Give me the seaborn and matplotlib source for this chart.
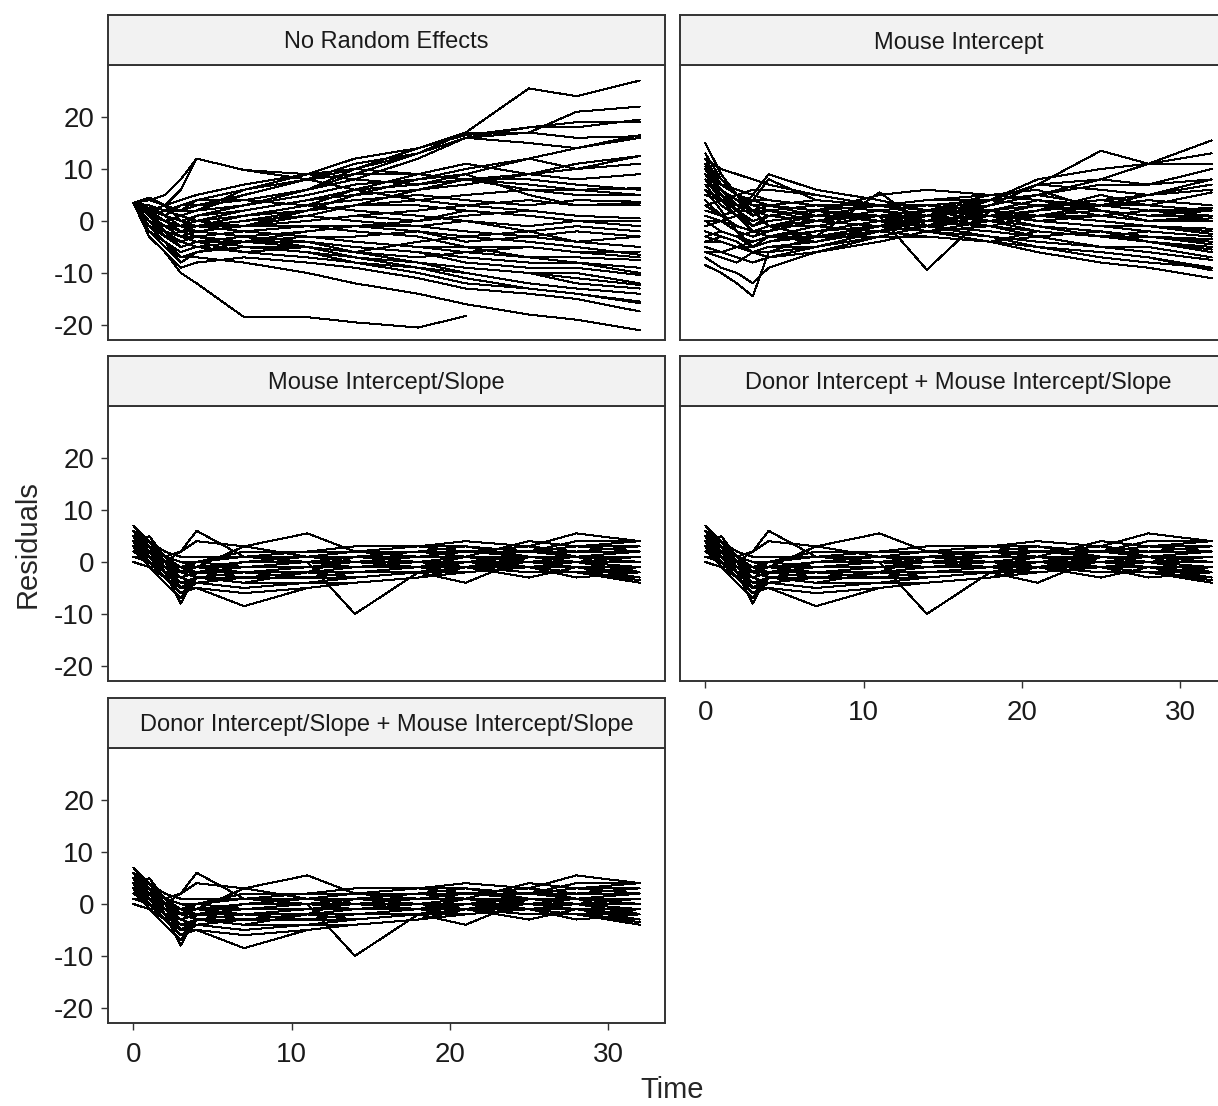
import numpy as np
import pandas as pd
import matplotlib
matplotlib.use("Agg")
import matplotlib.pyplot as plt
import seaborn as sns

# residuals per mouse (rows) at each time point
times = [0, 1, 2, 3, 4, 7, 11, 14, 18, 21, 25, 28, 32]
nan = np.nan

no_random = [
    [3.5, 1.5, 0, -1, 1, 3, 6, 9, 13, 17, 25.5, 24, 27],
    [3.5, 3, 2, 2, 4, 6, 8, 11, 13, 16, 17, 21, 22],
    [3.5, 2, 3, 4, 5, 7, 9, 12, 14, 16.5, 18, 18, 19.5],
    [3.5, 4, 3, 2, 3, 5, 8, 10, 13, 16, 15, 14, 16.5],
    [3.5, 2, 1, 3, 4, 4, 6, 10, 14, 17, 17, 16, 16.3],
    [3.5, 4, 5, 8, 12, 9.8, 9, 8, 7, 9, 12, 10, 12.5],
    [3.5, 1, 0, 1, 2, 5, 8, 9, 9, 8, 8, 7, 6],
    [3.5, 2, 0, -1, 0, 2, 4, 6, 7, 8, 6, 6, 5],
    [3.5, 1, -1, -2, -1, 1, 3, 4, 5, 4, 3, 4, 3.7],
    [3.5, 3, 2, 1, 0, -1, 2, 5, 8, 9, 5, 3, 3.5],
    [3.5, 0, -2, -3, -2, -1, 0, 1, 0, 2, 1, 0, 0],
    [3.5, 1, -1, -1, -2, -3, -2, -1, -1, 0, -2, -1, -2],
    [3.5, -1, -3, -4, -3, -2, -1, -1, -2, -4, -3, -2, -3],
    [3.5, -2, -4, -6, -5, -4, -3, -4, -5, -5, -5, -6, -5.9],
    [3.5, 2, 0, -1, -1, -2, -3, -3, -2, -3, -4, -5, -6.5],
    [3.5, 0, -2, -4, -3, -2, -3, -4, -5, -6, -7, -7, -7.5],
    [3.5, -1, -3, -2, -2, -3, -4, -5, -6, -8, -9, -9, -10.4],
    [3.5, 0, -1, -2, -3, -4, -5, -7, -8, -9, -10, -11, -12.3],
    [3.5, 1, 0, -1, -2, -3, -5, -7, -9, -11, -13, -14, -15.5],
    [3.5, -2, -5, -8, -6, -5, -6, -8, -10, -12, -13, -14, -15.8],
    [3.5, -3, -6, -9, -8, -7, -8, -9, -11, -13, -14, -15, -17.4],
    [3.5, -2, -5, -7, -7, -8, -10, -12, -14, -16, -18, -19, -21],
    [3.5, -3, -6, -10, -12, -18.5, -18.5, -19.5, -20.5, -18.3, nan, nan, nan],
    [3.5, 2, 3, 6, 12, 9.8, 8, 6, 4, 3, 2, 1, 0.5],
    [3.5, 4, 3, 2, 2, 6, 9, 10, 9, 8, 7, 6, 6.3],
    [3.5, 3, 1, 0, 1, 3, 6, 8, 12, 16, 18, 19, 19],
    [3.5, 2, 0, -2, -1, 0, 1, 0, -1, -2, -3, -4, -5],
    [3.5, 1, -1, -2, -3, -5, -6, -7, -8, -9, -10, -10, -12],
    [3.5, 0, -2, -3, -4, -6, -7, -8, -9, -10, nan, nan, nan],
    [3.5, 2, 0, -1, 0, 1, 2, 3, 3, 2, 1, 0, -1],
    [3.5, 3, 2, 1, 2, 3, 5, 7, 8, 10, 12, 14, 16],
    [3.5, 1, -1, -3, -2, -1, -1, -2, -3, -5, -7, -8, -10],
    [3.5, 2, 1, 0, -1, -1, 0, 1, 2, 3, 4, 3, 3],
    [3.5, 0, -2, -5, -4, -4, -5, -6, -7, -6, -5, -6, -7],
    [3.5, 1, 0, -2, -1, 0, 2, 3, 4, 5, 6, 5, 5],
    [3.5, -1, -2, -3, -3, -4, -4, -5, -6, -7, -8, -8, -9],
    [3.5, 2, 1, -1, -2, -1, 1, 3, 6, 8, 9, 10, 11],
    [3.5, -1, -4, -7, -6, -4, -2, -1, 0, 1, 2, 1, 0.5],
    [3.5, 1, -2, -4, -5, -6, -5, -6, -8, -10, -12, -13, -14],
    [3.5, 4.5, 3, 0, -1, 1, 3, 6, 9, 11, 9, 8, 9],
    [3.5, 0, -3, -5, -4, -3, -4, -6, -4, -3, -2, -4, -3],
    [3.5, 2.5, 1, 0, 1, 2, 4, 5, 6, 7, 9, 11, 12.5],
    [3.5, -2, -4, -8, -6, -5, -5, -7, -8, -9, -10, -12, -13],
    [3.5, 1, 2, 3, 3, 4, 3, 2, 1, 0, -1, 0, -1],
]

mouse_int = [
    [-7, -9, -10, -12, -9, -6, -3, -1, 3, 7, 13.5, 11, 15.5],
    [-4, -4, -5, -5, -3, -2, 0, 2, 3, 5, 8, 11, 13],
    [-5, -6, -5, -4, -3, -2, -1, 1, 3, 5, 7, 7, 10],
    [-3, -2, -3, -4, -3, -1, 1, 2, 4, 7, 6, 5, 8],
    [-6, -7, -8, -6, -5, -5, -2, 1, 4, 7, 8, 7, 8],
    [-1, 0, 1, 4, 8, 4, 3, 1, 0, 2, 5, 3, 5.5],
    [0, -2, -3, -2, -1, 1, 3, 4, 4, 3, 3, 2, 1],
    [1, 0, -2, -3, -2, 0, 2, 3, 4, 5, 3, 3, 2],
    [3, 1, -1, -2, -1, 1, 3, 4, 5, 4, 3, 4, 3],
    [0, 0, -1, -2, -3, -4, -1, 2, 5, 6, 2, 0, 0.5],
    [4, 1, -1, -2, -1, 0, 1, 2, 1, 3, 2, 1, 1],
    [6, 4, 2, 2, 1, 0, 1, 2, 2, 3, 1, 2, 1],
    [7, 3, 1, 0, 1, 2, 3, 3, 2, 0, 1, 2, 1],
    [9, 4, 2, 0, 1, 2, 3, 2, 1, 1, 1, 0, 0],
    [7, 6, 4, 3, 3, 2, 1, 1, 2, 1, 0, -1, -2.5],
    [9, 6, 4, 2, 3, 4, 3, 2, 1, 0, -1, -1, -1.5],
    [10, 6, 3, 4, 4, 3, 2, 1, 0, -2, -3, -3, -4.5],
    [10.5, 7, 6, 5, 4, 3, 2, 0, -1, -2, -3, -4, -5.5],
    [12, 10, 9, 8, 7, 5, 3, 1, -1, -3, -5, -6, -7.5],
    [10, 5, 2, -1, 1, 2, 1, -1, -3, -5, -6, -7, -9],
    [-8.5, -10, -12, -14.5, -6, -3, -2, -3, -4, -5, -6, -7, -9.5],
    [13, 8, 5, 3, 3, 2, 0, -2, -4, -6, -8, -9, -11],
    [15, 9, 5, 2, -1, -3, -3, -3, -4, -2, nan, nan, nan],
    [2, 1, 2, 5, 9, 6, 4, 2, 0, -1, -2, -3, -3.5],
    [-1, 0, -1, -2, -2, 2, 5, 6, 5, 4, 3, 2, 2.5],
    [-6, -6, -7, -8, -7, -5, -2, 0, 4, 8, 10, 11, 11],
    [5, 4, 2, 0, 1, 2, 3, 2, 1, 0, -1, -2, -3],
    [9, 6, 4, 3, 2, 0, -1, -2, -3, -4, -5, -5, -7],
    [10, 7, 5, 4, 3, 1, 0, -1, -2, -3, nan, nan, nan],
    [2, 1, -1, -2, -1, 0, 1, -9.4, 2, 1, 0, -1, -2],
    [-5, -6, -7, -8, -7, -6, -4, -2, -1, 1, 3, 5, 7],
    [8, 5, 3, 1, 2, 3, 3, 2, 1, -1, -3, -4, -6],
    [1, 0, -1, -2, -3, -3, 5.5, -1, 0, 1, 2, 1, 1],
    [7, 3, 1, -2, -1, -1, -2, -3, -4, -3, -2, -3, -4],
    [0, -2, -3, -5, -4, -3, -1, 0, 1, 2, 3, 2, 2],
    [8, 4, 3, 2, 2, 1, 1, 0, -1, -2, -3, -3, -4],
    [-2, -3, -4, -6, -6, -5, -3, -1, 1, 3, 4, 5, 6],
    [6, 2, -2, -5, -4, -2, 0, 1, 2, 3, 4, 3, 2],
    [11, 8, 5, 3, 2, 1, 1, -1, -3, -5, -7, -8, -9],
    [-4, -3, -4, -6, -7, -5, -3, -1, 2, 4, 2, 1, 2],
    [8, 4, 1, -1, 0, 1, 0, -2, 0, 1, 2, 0, 1],
    [-3, -4, -5, -6, -5, -4, -2, -1, 0, 1, 3, 5, 6],
    [12, 7, 5, 1, 2, 3, 3, 1, 0, -1, -2, -4, -5],
    [3, 4, 5, 6, 6, 5, 3, 1, -1, -2, -3, -2, -3],
]

mouse_int_slope = [
    [6, 3, -1, -3, -2, -1, 0, 1, 1, 2, 2, 3, 4],
    [5, 4, 1, -2, -1, 0, 1, 2, 2, 3, 2, 4, 4],
    [4, 2, 0, -1, 0, 1, 2, 2, 3, 3, 2, 2, 3],
    [3, 5, 1, -2, 0, 2, 2, 3, 3, 4, 3, 1, 2],
    [7, 3, -2, -8, -2, -1, -1, 0, 1, 2, 1, 1, 1],
    [2, 1, 0, 2, 6, 1, 0, -1, 0, 1, 0, 0, 1],
    [1, 0, -2, -3, -2, 0, 1, 1, 2, 1, 0, 0, 0],
    [2, 0, -1, -2, -1, 0, 1, 0, 1, 2, 1, 1, 0],
    [3, 1, -1, -3, -2, -2, -1, 0, 0, 1, 1, 0, -1],
    [1, 0, -1, -2, -3, -4, -2, 1, 2, 3, 1, 0, -1],
    [4, 1, -2, -4, -3, -2, -1, 0, -1, 1, 0, -1, -1],
    [5, 2, 0, -1, -1, -2, -1, 0, 0, 1, -1, 0, -2],
    [6, 2, -1, -3, -2, -1, 0, 0, -1, -1, 0, 1, -2],
    [3, -1, -3, -6, -4, -3, -2, -1, -1, 0, 0, -1, -3],
    [2, 2, 0, -1, -1, -2, -3, -2, -1, -1, -1, -2, -3],
    [4, 0, -2, -5, -3, -2, -2, -2, -1, -1, -1, -2, -2],
    [5, 1, -2, -2, -2, -3, -3, -2, -2, -2, -1, -1, -3],
    [6, 2, -1, -3, -4, -5, -4, -3, -2, -1, 0, -1, -2],
    [3, 1, -1, -2, -3, -4, -4, -4, -3, -1, 0, 1, 0],
    [4, -1, -4, -7, -3, -3, -3, -3, -2, -1, 1, 0, -1],
    [5, 0, -3, -6, -5, -8.5, -5, -4, -3, -2, -1, 0, 0],
    [6, 1, -2, -5, -5, -6, -5, -4, -3, -2, -1, -1, -2],
    [5, -1, -3, -5, -4, -3, -2, -2, -2, 0, nan, nan, nan],
    [3, 2, 1, 2, 4, 3, 1, 0, -1, 0, 1, 0, 1],
    [2, 1, 0, -1, -1, 3, 5.5, 2, 1, 1, 0, 0, 1],
    [4, 2, 0, -2, -1, -1, 0, 1, 1, 2, 3, 2, 2],
    [3, 2, 0, -1, 0, 1, 1, 1, 0, 0, -1, -1, -2],
    [4, 3, 1, 0, -1, -2, -2, -3, -2, -1, -1, -2, -2],
    [5, 3, 1, 0, 0, -1, -1, -1, -1, 0, nan, nan, nan],
    [2, 1, -1, -2, -1, 0, 0, -10, -2, -4, 1, 0, -1],
    [1, 0, -1, -2, -1, -1, 0, 1, 2, 2, 3, 5.5, 4],
    [4, 2, 0, -2, -1, 0, 1, 1, 0, -1, -3, -1, -1],
    [1, 0, -1, -2, -2, -2, -1, -1, 0, 1, 4, 3, 2],
    [5, 1, -1, -4, -3, -2, -3, -3, -2, -1, -1, -1, -3],
    [0, -1, -1, -3, -2, -1, 0, 1, 2, 3, 2, 1, 0],
    [6, 3, 1, 0, -1, -1, 0, 0, -1, -1, -2, -2, -4],
    [3, 1, 0, -5, -3, -2, -1, -1, 0, 1, 0, 1, 2],
    [6, 3, 0, -2, -3, -2, -1, 0, 1, 2, 3, 2, 3],
    [4, 1, -2, -4, -4, -5, -4, -3, -2, -1, -1, -2, -1],
    [2, 4, 2, 1, 1, 1, 2, 2, 2, 1, 0, 1, 2],
    [5, 2, -1, -3, -2, -3, -3, -2, -1, -2, -1, -2, -3.5],
    [1, 1, 0, -1, -2, -1, 0, -1, 0, 0, 1, 0, 0],
    [7, 4, 0, -3, -2, -1, 0, 1, 2, 1, -1, -3, -2],
    [4, 2, 1, -1, 0, 1, 1, 2, 3, 2, 2, 3, 3],
]

# the two donor models look the same as the mouse intercept/slope model
donor_int_mouse_slope = mouse_int_slope
donor_slope_mouse_slope = mouse_int_slope

panel_titles = [
    "No Random Effects",
    "Mouse Intercept",
    "Mouse Intercept/Slope",
    "Donor Intercept + Mouse Intercept/Slope",
    "Donor Intercept/Slope + Mouse Intercept/Slope",
]
panel_data = [no_random, mouse_int, mouse_int_slope,
              donor_int_mouse_slope, donor_slope_mouse_slope]

rows = []
for title, data in zip(panel_titles, panel_data):
    for m, vals in enumerate(data):
        for t, v in zip(times, vals):
            if not np.isnan(v):
                rows.append({"model": title, "mouse": m, "Time": t, "Residuals": v})
df = pd.DataFrame(rows)

sns.set_style("white")
plt.rcParams['font.family'] = ['Liberation Sans', 'DejaVu Sans']
plt.rcParams['axes.unicode_minus'] = False

W, H = 1218, 1106
fig = plt.figure(figsize=(W / 100, H / 100), dpi=100)

# panel boxes in pixels: (left, top), all the same size
px_left = [108, 680, 108, 680, 108]
px_top = [65, 65, 406, 406, 748]
pw, ph, sh = 557, 275, 50
edge = "#333333"

for i, title in enumerate(panel_titles):
    l, t = px_left[i], px_top[i]
    ax = fig.add_axes([l / W, 1 - (t + ph) / H, pw / W, ph / H])
    sns.lineplot(data=df[df["model"] == title], x="Time", y="Residuals",
                 units="mouse", estimator=None, color="black", lw=0.72,
                 antialiased=False, ax=ax)
    ax.set_xlim(-1.6, 33.6)
    ax.set_ylim(-22.9, 30)
    ax.set_xlabel("")
    ax.set_ylabel("")
    for s in ax.spines.values():
        s.set_color(edge)
        s.set_linewidth(1.4)
    ax.set_xticks([0, 10, 20, 30])
    ax.set_yticks([-20, -10, 0, 10, 20])
    show_y = l == 108
    show_x = i in (3, 4)
    ax.tick_params(axis="y", left=show_y, labelleft=show_y, length=5, width=1,
                   color=edge, labelsize=20, labelcolor="#1a1a1a", pad=5)
    ax.tick_params(axis="x", bottom=show_x, labelbottom=show_x, length=5, width=1,
                   color=edge, labelsize=20, labelcolor="#1a1a1a", pad=9)

    # facet strip
    sax = fig.add_axes([l / W, 1 - t / H, pw / W, sh / H])
    sax.set_facecolor("#f2f2f2")
    sax.set_xticks([])
    sax.set_yticks([])
    for s in sax.spines.values():
        s.set_color(edge)
        s.set_linewidth(1.4)
    sax.text(0.5, 0.45, title, ha="center", va="center", fontsize=17,
             color="#1a1a1a", transform=sax.transAxes)

fig.text(672 / W, 1 - 1090 / H, "Time", ha="center", va="center", fontsize=21)
fig.text(28 / W, 1 - 544 / H, "Residuals", ha="center", va="center",
         rotation=90, fontsize=21)

fig.savefig("out.png", dpi=100)
